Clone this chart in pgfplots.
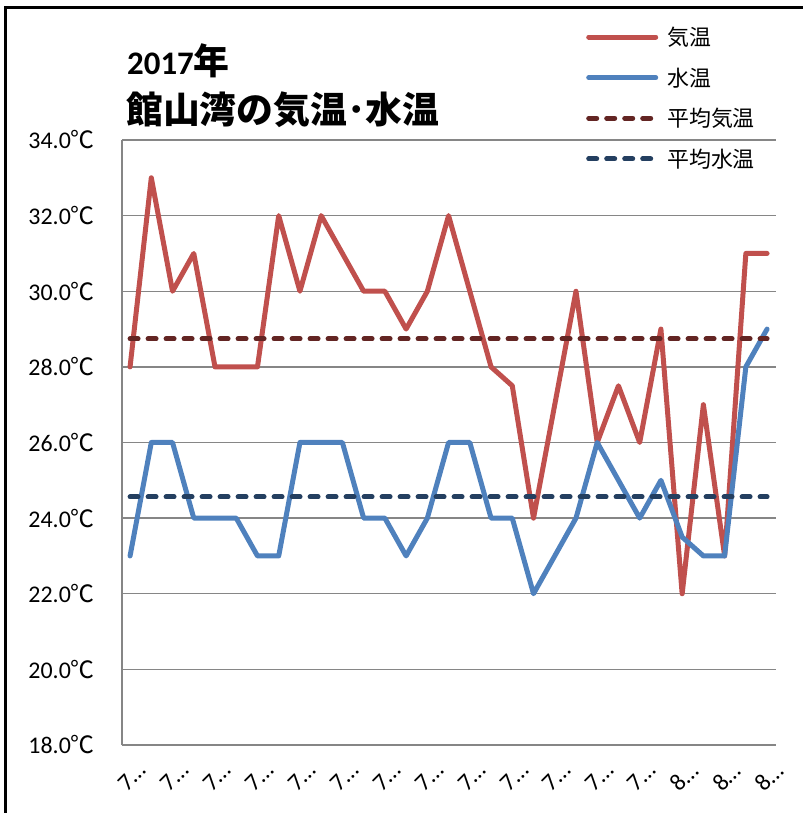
\documentclass[border=0pt]{standalone}
\usepackage{fontspec}
\setmainfont{Carlito}
\newfontfamily\cjk{Noto Sans CJK JP}
\usepackage{pgfplots}
\usepackage{pgfplotstable}
\pgfplotsset{compat=1.18}
\definecolor{airc}{HTML}{C0504D}
\definecolor{waterc}{HTML}{4F81BD}
\definecolor{airavg}{HTML}{632523}
\definecolor{wateravg}{HTML}{243F60}
\definecolor{gridc}{HTML}{868686}
\pgfplotstableread{
i air water
0 28 23
1 33 26
2 30 26
3 31 24
4 28 24
5 28 24
6 28 23
7 32 23
8 30 26
9 32 26
10 31 26
11 30 24
12 30 24
13 29 23
14 30 24
15 32 26
16 30 26
17 28 24
18 27.5 24
19 24 22
20 27 23
21 30 24
22 26 26
23 27.5 25
24 26 24
25 29 25
26 22 23.5
27 27 23
28 23 23
29 31 28
30 31 29
}\datatable
\begin{document}
\begin{tikzpicture}
\path[use as bounding box] (0,0) rectangle (803bp,813bp);
\draw[black, line width=3bp] (5.5bp,-5bp) -- (5.5bp,805bp) -- (810bp,805bp);
\begin{axis}[
  at={(122bp,68bp)}, anchor=south west,
  scale only axis, width=654bp, height=605bp,
  xmin=-0.38, xmax=30.42, ymin=18, ymax=34,
  ytick={18,20,...,34},
  yticklabels={18.0{\cjk ℃},20.0{\cjk ℃},22.0{\cjk ℃},24.0{\cjk ℃},26.0{\cjk ℃},28.0{\cjk ℃},30.0{\cjk ℃},32.0{\cjk ℃},34.0{\cjk ℃}},
  xtick={0,2,...,30},
  xticklabels={7…,7…,7…,7…,7…,7…,7…,7…,7…,7…,7…,7…,7…,8…,8…,8…},
  ymajorgrids,
  grid style={gridc, line width=1.3bp},
  axis x line*=bottom, axis y line*=left,
  axis line style={gridc, line width=1.3bp},
  major tick length=0pt,
  tick label style={font=\fontsize{24}{28}\selectfont, inner sep=0pt},
  yticklabel style={anchor=east, xshift=-27bp},
  xticklabel style={yshift=-32bp, xshift=2bp, rotate=45, anchor=center},
  legend style={at={(0.7095,1.187)}, anchor=north west, draw=none, fill=none,
    font=\cjk\fontsize{22}{26}\selectfont, row sep=20.7bp, column sep=9bp,
    inner sep=0pt, nodes={inner sep=0pt}},
  legend cell align=left,
  legend image code/.code={\draw[#1] (0bp,0bp) -- (67bp,0bp);},
  clip=false,
]
\addplot[airc, line width=5bp, line join=round, line cap=round] table[x=i, y=air] {\datatable};
\addlegendentry{気温}
\addplot[waterc, line width=5bp, line join=round, line cap=round] table[x=i, y=water] {\datatable};
\addlegendentry{水温}
\addplot[airavg, line width=5bp, line cap=round, dash pattern=on 8bp off 10bp] coordinates {(0,28.74) (30,28.74)};
\addlegendentry{平均気温}
\addplot[wateravg, line width=5bp, line cap=round, dash pattern=on 8bp off 10bp] coordinates {(0,24.56) (30,24.56)};
\addlegendentry{平均水温}
\end{axis}
\node[anchor=base west, inner sep=0pt] at (127bp,738bp) {\fontsize{33}{38}\selectfont\bfseries 2017{\cjk\fontsize{36}{40}\selectfont 年}};
\node[anchor=base west, inner sep=0pt] at (126bp,689bp) {\cjk\bfseries\fontsize{37}{42}\selectfont 館山湾の気温･水温};
\end{tikzpicture}
\end{document}
